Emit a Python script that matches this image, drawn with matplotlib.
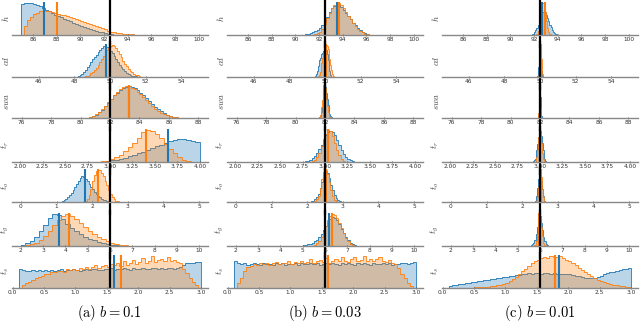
import numpy as np
import matplotlib
matplotlib.use("Agg")
import matplotlib.pyplot as plt

plt.rcParams["mathtext.fontset"] = "cm"

# параметры (строки) и их истинные значения
PARAMS = [r"$h$", r"$cd$", r"$swa$", r"$t_r$", r"$t_o$", r"$t_g$", r"$t_s$"]
TRUE = [92.5, 50.0, 82.0, 3.0, 2.5, 6.0, 1.55]
XLIMS = [(84.2, 100.8), (44.5, 55.5), (75.35, 88.65), (1.91, 4.09),
         (-0.25, 5.25), (1.6, 10.4), (-0.01, 3.11)]
XTICKS = [[86, 88, 90, 92, 94, 96, 98, 100], [46, 48, 50, 52, 54],
          [76, 78, 80, 82, 84, 86, 88],
          [2.00, 2.25, 2.50, 2.75, 3.00, 3.25, 3.50, 3.75, 4.00],
          [0, 1, 2, 3, 4, 5], [2, 3, 4, 5, 6, 7, 8, 9, 10],
          [0.0, 0.5, 1.0, 1.5, 2.0, 2.5, 3.0]]
TICKFMT = ["{:.0f}", "{:.0f}", "{:.0f}", "{:.2f}", "{:.0f}", "{:.0f}", "{:.1f}"]
CAPTIONS = [r"$\mathrm{(a)}\ b = 0.1$", r"$\mathrm{(b)}\ b = 0.03$", r"$\mathrm{(c)}\ b = 0.01$"]

# средние (вертикальные линии)
BLUE_MEAN_A = [86.9, 49.8, 83.3, 3.65, 1.80, 3.70, 1.62]
ORANGE_MEAN_A = [88.0, 50.02, 83.3, 3.40, 2.16, 4.14, 1.72]
BLUE_MEAN_B = [93.5, 50.02, 82.0, 3.03, 2.50, 6.20, 1.55]
ORANGE_MEAN_B = [93.7, 50.08, 81.95, 3.03, 2.52, 6.30, 1.60]
BLUE_MEAN_C = [92.7, 50.0, 82.0, 3.0, 2.50, 6.0, 1.85]
ORANGE_MEAN_C = [92.9, 50.05, 81.98, 3.0, 2.52, 5.97, 1.79]

# гистограммы: (начало, конец) и высоты столбиков
# ---- колонка (a) b = 0.1
H_A_BLUE_RNG = (85.0, 93.0)
H_A_BLUE = [96, 98, 97, 99, 96, 92, 88, 82, 78, 72, 68, 62, 58, 54, 50, 46,
            42, 38, 35, 31, 28, 25, 22, 19, 16, 13, 10, 8, 6, 4, 2, 1]
H_A_ORANGE_RNG = (85.25, 95.0)
H_A_ORANGE = [28, 45, 55, 63, 68, 72, 74, 73, 72, 70, 67, 64, 62, 60, 57, 54,
              52, 48, 46, 43, 40, 37, 34, 30, 27, 23, 20, 17, 13, 10, 8, 6,
              5, 4, 3, 2, 2, 1, 1]
CD_A_BLUE_RNG = (48.2, 51.6)
CD_A_BLUE = [3, 6, 10, 16, 22, 30, 38, 46, 54, 60, 68, 75, 82, 88, 94, 96,
             92, 88, 80, 72, 64, 55, 46, 38, 30, 23, 17, 12, 8, 6, 4, 3, 2, 1]
CD_A_ORANGE_RNG = (48.6, 51.8)
CD_A_ORANGE = [2, 4, 7, 11, 16, 22, 29, 37, 46, 55, 64, 73, 82, 90, 96, 99,
               95, 88, 80, 70, 60, 50, 41, 33, 26, 19, 14, 10, 7, 5, 3, 1]
SWA_A_BLUE_RNG = (80.6, 86.6)
SWA_A_BLUE = [2, 5, 10, 17, 26, 36, 47, 58, 69, 78, 86, 92, 96, 98, 96, 92,
              86, 78, 70, 61, 52, 43, 35, 27, 21, 15, 10, 7, 4, 2]
SWA_A_ORANGE_RNG = (80.4, 86.8)
SWA_A_ORANGE = [1, 3, 6, 11, 18, 27, 37, 48, 59, 70, 80, 88, 94, 99, 97, 93,
                88, 80, 72, 63, 54, 45, 37, 29, 22, 16, 11, 8, 5, 3, 2, 1]
TR_A_BLUE_RNG = (2.90, 4.00)
TR_A_BLUE = [1, 3, 5, 7, 10, 13, 17, 21, 26, 31, 36, 41, 47, 53, 59, 64, 68,
             71, 70, 68, 65, 62]
TR_A_ORANGE_RNG = (2.90, 3.90)
TR_A_ORANGE = [2, 4, 8, 14, 22, 32, 44, 58, 74, 90, 98, 94, 86, 72, 56, 40,
               26, 14, 6, 2]
TO_A_BLUE_RNG = (1.15, 2.55)
TO_A_BLUE = [2, 5, 9, 14, 20, 28, 36, 45, 54, 64, 72, 78, 76, 70, 62, 54, 46,
             38, 31, 25, 19, 14, 10, 7, 5, 3, 2, 1]
TO_A_ORANGE_RNG = (1.80, 2.75)
TO_A_ORANGE = [3, 10, 22, 40, 62, 80, 92, 97, 95, 88, 78, 64, 50, 36, 24, 14,
               8, 4, 2]
TG_A_BLUE_RNG = (2.0, 6.4)
TG_A_BLUE = [3, 8, 16, 28, 44, 62, 82, 96, 92, 80, 66, 54, 44, 36, 28, 22, 17,
             13, 9, 6, 4, 2]
TG_A_ORANGE_RNG = (2.2, 7.0)
TG_A_ORANGE = [2, 5, 10, 18, 30, 45, 62, 78, 90, 95, 90, 80, 68, 56, 45, 36,
               28, 21, 15, 10, 7, 4, 2, 1]
TS_A_BLUE_RNG = (0.10, 3.00)
TS_A_BLUE = [60, 55, 52, 54, 56, 53, 55, 52, 57, 54, 55, 53, 56, 58, 54, 57,
             55, 58, 56, 54, 57, 59, 56, 58, 60, 57, 55, 59, 58, 61, 57, 60,
             58, 62, 59, 57, 61, 60, 58, 62, 60, 59, 63, 61, 58, 62, 60, 63,
             61, 59, 62, 66, 72, 76, 78, 77, 80, 79]
TS_A_ORANGE_RNG = (0.15, 2.95)
TS_A_ORANGE = [8, 14, 20, 26, 30, 34, 38, 42, 44, 48, 50, 52, 54, 50, 58, 55,
               60, 57, 62, 58, 66, 60, 64, 70, 62, 68, 72, 65, 74, 70, 78, 68,
               82, 72, 76, 88, 74, 80, 92, 78, 84, 100, 80, 86, 90, 82, 96, 84,
               88, 80, 78, 60, 45, 30, 18, 8]

# ---- колонка (b) b = 0.03
H_B_BLUE_RNG = (90.8, 96.4)
H_B_BLUE = [2, 4, 6, 9, 12, 16, 22, 30, 42, 56, 70, 82, 90, 95, 92, 86, 78,
            68, 58, 48, 38, 30, 22, 16, 10, 6, 3, 1]
H_B_ORANGE_RNG = (91.6, 96.2)
H_B_ORANGE = [2, 5, 10, 20, 35, 52, 68, 82, 92, 98, 100, 94, 84, 72, 60, 48,
              37, 28, 20, 13, 8, 4, 2]
CD_B_BLUE_RNG = (49.45, 50.35)
CD_B_BLUE = [3, 8, 18, 35, 52, 60, 66, 70, 74, 80, 85, 88, 82, 70, 52, 34,
             18, 6]
CD_B_ORANGE_RNG = (49.6, 50.5)
CD_B_ORANGE = [2, 6, 14, 28, 44, 60, 74, 86, 94, 100, 96, 88, 74, 56, 38,
               22, 10, 3]
SWA_B_BLUE_RNG = (81.6, 82.45)
SWA_B_BLUE = [2, 5, 10, 20, 35, 55, 74, 88, 95, 90, 76, 58, 40, 24, 12, 5, 2]
SWA_B_ORANGE_RNG = (81.6, 82.4)
SWA_B_ORANGE = [3, 8, 18, 34, 56, 78, 94, 100, 92, 76, 56, 36, 20, 10, 4, 1]
TR_B_BLUE_RNG = (2.75, 3.35)
TR_B_BLUE = [1, 2, 4, 7, 12, 19, 28, 40, 54, 68, 82, 92, 96, 92, 82, 68, 52,
             38, 26, 16, 9, 5, 2, 1]
TR_B_ORANGE_RNG = (2.85, 3.25)
TR_B_ORANGE = [2, 6, 14, 28, 48, 70, 88, 100, 96, 80, 58, 38, 22, 10, 4, 1]
TO_B_BLUE_RNG = (2.10, 2.95)
TO_B_BLUE = [2, 4, 8, 15, 26, 42, 62, 82, 95, 90, 74, 54, 36, 22, 12, 5, 2]
TO_B_ORANGE_RNG = (2.20, 2.85)
TO_B_ORANGE = [3, 8, 20, 42, 70, 92, 100, 86, 62, 38, 18, 7, 2]
TG_B_BLUE_RNG = (5.0, 7.4)
TG_B_BLUE = [2, 3, 5, 7, 10, 14, 20, 28, 38, 50, 62, 74, 84, 90, 88, 80, 68,
             54, 40, 28, 18, 10, 5, 2]
TG_B_ORANGE_RNG = (5.5, 7.3)
TG_B_ORANGE = [3, 8, 16, 28, 44, 62, 80, 94, 100, 96, 86, 72, 56, 40, 26, 14,
               6, 2]
TS_B_BLUE_RNG = (0.10, 3.00)
TS_B_BLUE = [80, 74, 70, 72, 69, 71, 73, 70, 68, 72, 70, 71, 69, 73, 70, 72,
             68, 71, 70, 73, 69, 72, 70, 71, 74, 70, 72, 69, 71, 73, 70, 72,
             71, 69, 73, 70, 72, 71, 68, 72, 70, 73, 71, 69, 72, 70, 71, 73,
             70, 72, 69, 71, 70, 72, 73, 71, 74, 76]
TS_B_ORANGE_RNG = (0.15, 2.95)
TS_B_ORANGE = [15, 30, 50, 62, 66, 70, 68, 72, 70, 74, 68, 72, 76, 70, 74, 72,
               78, 70, 75, 73, 80, 72, 76, 85, 74, 78, 82, 76, 88, 72, 80, 86,
               78, 92, 80, 76, 84, 90, 78, 82, 95, 80, 86, 78, 84, 90, 80, 76,
               82, 74, 70, 58, 42, 28, 15, 6]

# ---- колонка (c) b = 0.01
H_C_BLUE_RNG = (91.8, 94.0)
H_C_BLUE = [2, 4, 8, 14, 22, 32, 44, 56, 66, 72, 74, 70, 62, 52, 42, 32, 24,
            16, 10, 6, 3, 1]
H_C_ORANGE_RNG = (92.2, 93.4)
H_C_ORANGE = [4, 12, 30, 58, 86, 100, 92, 70, 44, 22, 8, 2]
CD_C_BLUE_RNG = (49.85, 50.15)
CD_C_BLUE = [4, 12, 30, 56, 80, 92, 86, 64, 38, 18, 6, 2]
CD_C_ORANGE_RNG = (49.9, 50.2)
CD_C_ORANGE = [3, 10, 28, 60, 92, 100, 84, 56, 28, 10, 3, 1]
SWA_C_BLUE_RNG = (81.85, 82.15)
SWA_C_BLUE = [3, 10, 26, 52, 80, 96, 90, 66, 40, 18, 6, 2]
SWA_C_ORANGE_RNG = (81.85, 82.1)
SWA_C_ORANGE = [4, 14, 38, 72, 100, 94, 64, 30, 10, 2]
TR_C_BLUE_RNG = (2.92, 3.08)
TR_C_BLUE = [2, 5, 10, 20, 36, 56, 78, 94, 96, 80, 58, 38, 20, 10, 4, 1]
TR_C_ORANGE_RNG = (2.95, 3.05)
TR_C_ORANGE = [4, 14, 38, 76, 100, 92, 60, 28, 10, 2]
TO_C_BLUE_RNG = (2.35, 2.65)
TO_C_BLUE = [3, 8, 20, 42, 70, 92, 88, 66, 40, 20, 8, 2]
TO_C_ORANGE_RNG = (2.40, 2.65)
TO_C_ORANGE = [4, 16, 46, 86, 100, 76, 40, 14, 4, 1]
TG_C_BLUE_RNG = (5.6, 6.35)
TG_C_BLUE = [2, 5, 10, 20, 36, 58, 82, 98, 92, 72, 48, 28, 14, 6, 2]
TG_C_ORANGE_RNG = (5.75, 6.25)
TG_C_ORANGE = [4, 14, 38, 72, 100, 90, 60, 30, 10, 3]
TS_C_BLUE_RNG = (0.10, 3.00)
TS_C_BLUE = [6, 8, 10, 11, 13, 14, 16, 18, 19, 21, 22, 24, 25, 27, 28, 30, 32,
             33, 35, 36, 38, 39, 41, 42, 44, 45, 44, 46, 45, 44, 46, 45, 44,
             45, 43, 44, 42, 43, 42, 40, 38, 36, 34, 32, 31, 30, 32, 35, 38,
             42, 45, 48, 51, 54, 56, 58, 60, 62]
TS_C_ORANGE_RNG = (0.45, 3.00)
TS_C_ORANGE = [1, 2, 2, 3, 3, 4, 5, 6, 8, 10, 13, 17, 22, 28, 35, 43, 52, 60,
               68, 76, 82, 88, 92, 96, 94, 100, 97, 95, 98, 92, 88, 82, 76,
               70, 62, 55, 48, 42, 36, 30, 26, 22, 18, 15, 12, 10, 8, 6, 5, 3,
               2]

COLUMNS = [
    ([(H_A_BLUE_RNG, H_A_BLUE), (CD_A_BLUE_RNG, CD_A_BLUE), (SWA_A_BLUE_RNG, SWA_A_BLUE),
      (TR_A_BLUE_RNG, TR_A_BLUE), (TO_A_BLUE_RNG, TO_A_BLUE), (TG_A_BLUE_RNG, TG_A_BLUE),
      (TS_A_BLUE_RNG, TS_A_BLUE)],
     [(H_A_ORANGE_RNG, H_A_ORANGE), (CD_A_ORANGE_RNG, CD_A_ORANGE), (SWA_A_ORANGE_RNG, SWA_A_ORANGE),
      (TR_A_ORANGE_RNG, TR_A_ORANGE), (TO_A_ORANGE_RNG, TO_A_ORANGE), (TG_A_ORANGE_RNG, TG_A_ORANGE),
      (TS_A_ORANGE_RNG, TS_A_ORANGE)],
     BLUE_MEAN_A, ORANGE_MEAN_A),
    ([(H_B_BLUE_RNG, H_B_BLUE), (CD_B_BLUE_RNG, CD_B_BLUE), (SWA_B_BLUE_RNG, SWA_B_BLUE),
      (TR_B_BLUE_RNG, TR_B_BLUE), (TO_B_BLUE_RNG, TO_B_BLUE), (TG_B_BLUE_RNG, TG_B_BLUE),
      (TS_B_BLUE_RNG, TS_B_BLUE)],
     [(H_B_ORANGE_RNG, H_B_ORANGE), (CD_B_ORANGE_RNG, CD_B_ORANGE), (SWA_B_ORANGE_RNG, SWA_B_ORANGE),
      (TR_B_ORANGE_RNG, TR_B_ORANGE), (TO_B_ORANGE_RNG, TO_B_ORANGE), (TG_B_ORANGE_RNG, TG_B_ORANGE),
      (TS_B_ORANGE_RNG, TS_B_ORANGE)],
     BLUE_MEAN_B, ORANGE_MEAN_B),
    ([(H_C_BLUE_RNG, H_C_BLUE), (CD_C_BLUE_RNG, CD_C_BLUE), (SWA_C_BLUE_RNG, SWA_C_BLUE),
      (TR_C_BLUE_RNG, TR_C_BLUE), (TO_C_BLUE_RNG, TO_C_BLUE), (TG_C_BLUE_RNG, TG_C_BLUE),
      (TS_C_BLUE_RNG, TS_C_BLUE)],
     [(H_C_ORANGE_RNG, H_C_ORANGE), (CD_C_ORANGE_RNG, CD_C_ORANGE), (SWA_C_ORANGE_RNG, SWA_C_ORANGE),
      (TR_C_ORANGE_RNG, TR_C_ORANGE), (TO_C_ORANGE_RNG, TO_C_ORANGE), (TG_C_ORANGE_RNG, TG_C_ORANGE),
      (TS_C_ORANGE_RNG, TS_C_ORANGE)],
     BLUE_MEAN_C, ORANGE_MEAN_C),
]

BLUE, ORANGE = "#1f77b4", "#ff7f0e"
W, H = 640, 325
COL_X = [12, 227, 442]       # левый край колонки, px
COL_W = 196
ROW_BASE = [35, 77, 118, 162, 202, 246, 288]   # основание гистограмм, px сверху
ROW_H = 33


def draw_hist(ax, rng, vals, color):
    vals = np.asarray(vals, float)
    edges = np.linspace(rng[0], rng[1], len(vals) + 1)
    ax.stairs(vals, edges, fill=True, color=color, alpha=0.3, lw=0)
    ax.stairs(vals, edges, color=color, lw=0.6)


fig = plt.figure(figsize=(W / 100, H / 100), dpi=100)
for c, (blues, oranges, bmean, omean) in enumerate(COLUMNS):
    for r in range(7):
        ax = fig.add_axes([COL_X[c] / W, 1 - ROW_BASE[r] / H, COL_W / W, ROW_H / H])
        draw_hist(ax, *blues[r], BLUE)
        draw_hist(ax, *oranges[r], ORANGE)
        top = max(max(blues[r][1]), max(oranges[r][1]))
        ax.set_ylim(0, top * 1.02)
        ax.set_xlim(*XLIMS[r])
        ax.axvline(bmean[r], color=BLUE, lw=1.5)
        ax.axvline(omean[r], color=ORANGE, lw=1.5)
        ax.axvline(TRUE[r], ymin=(-0.35 if r < 6 else 0), ymax=1.05, color="black",
                   lw=1.6, clip_on=False)
        ax.set_xticks(XTICKS[r])
        ax.set_xticklabels([TICKFMT[r].format(t) for t in XTICKS[r]])
        ax.tick_params(axis="x", labelsize=4.2, pad=0.5, length=2, width=0.5,
                       direction="inout", colors="#333333")
        ax.set_yticks([])
        for s in ["top", "right", "left"]:
            ax.spines[s].set_visible(False)
        ax.spines["bottom"].set_color("#888888")
        ax.spines["bottom"].set_linewidth(1.0)
        ax.set_facecolor("none")
        ax.set_ylabel(PARAMS[r], fontsize=6.5, color="#444444")
        ax.yaxis.set_label_coords(-0.006, 0.5)
    fig.text((COL_X[c] + COL_W / 2) / W, 1 - 313 / H, CAPTIONS[c], ha="center",
             va="center", fontsize=10.5)

fig.savefig("out.png", dpi=100)
